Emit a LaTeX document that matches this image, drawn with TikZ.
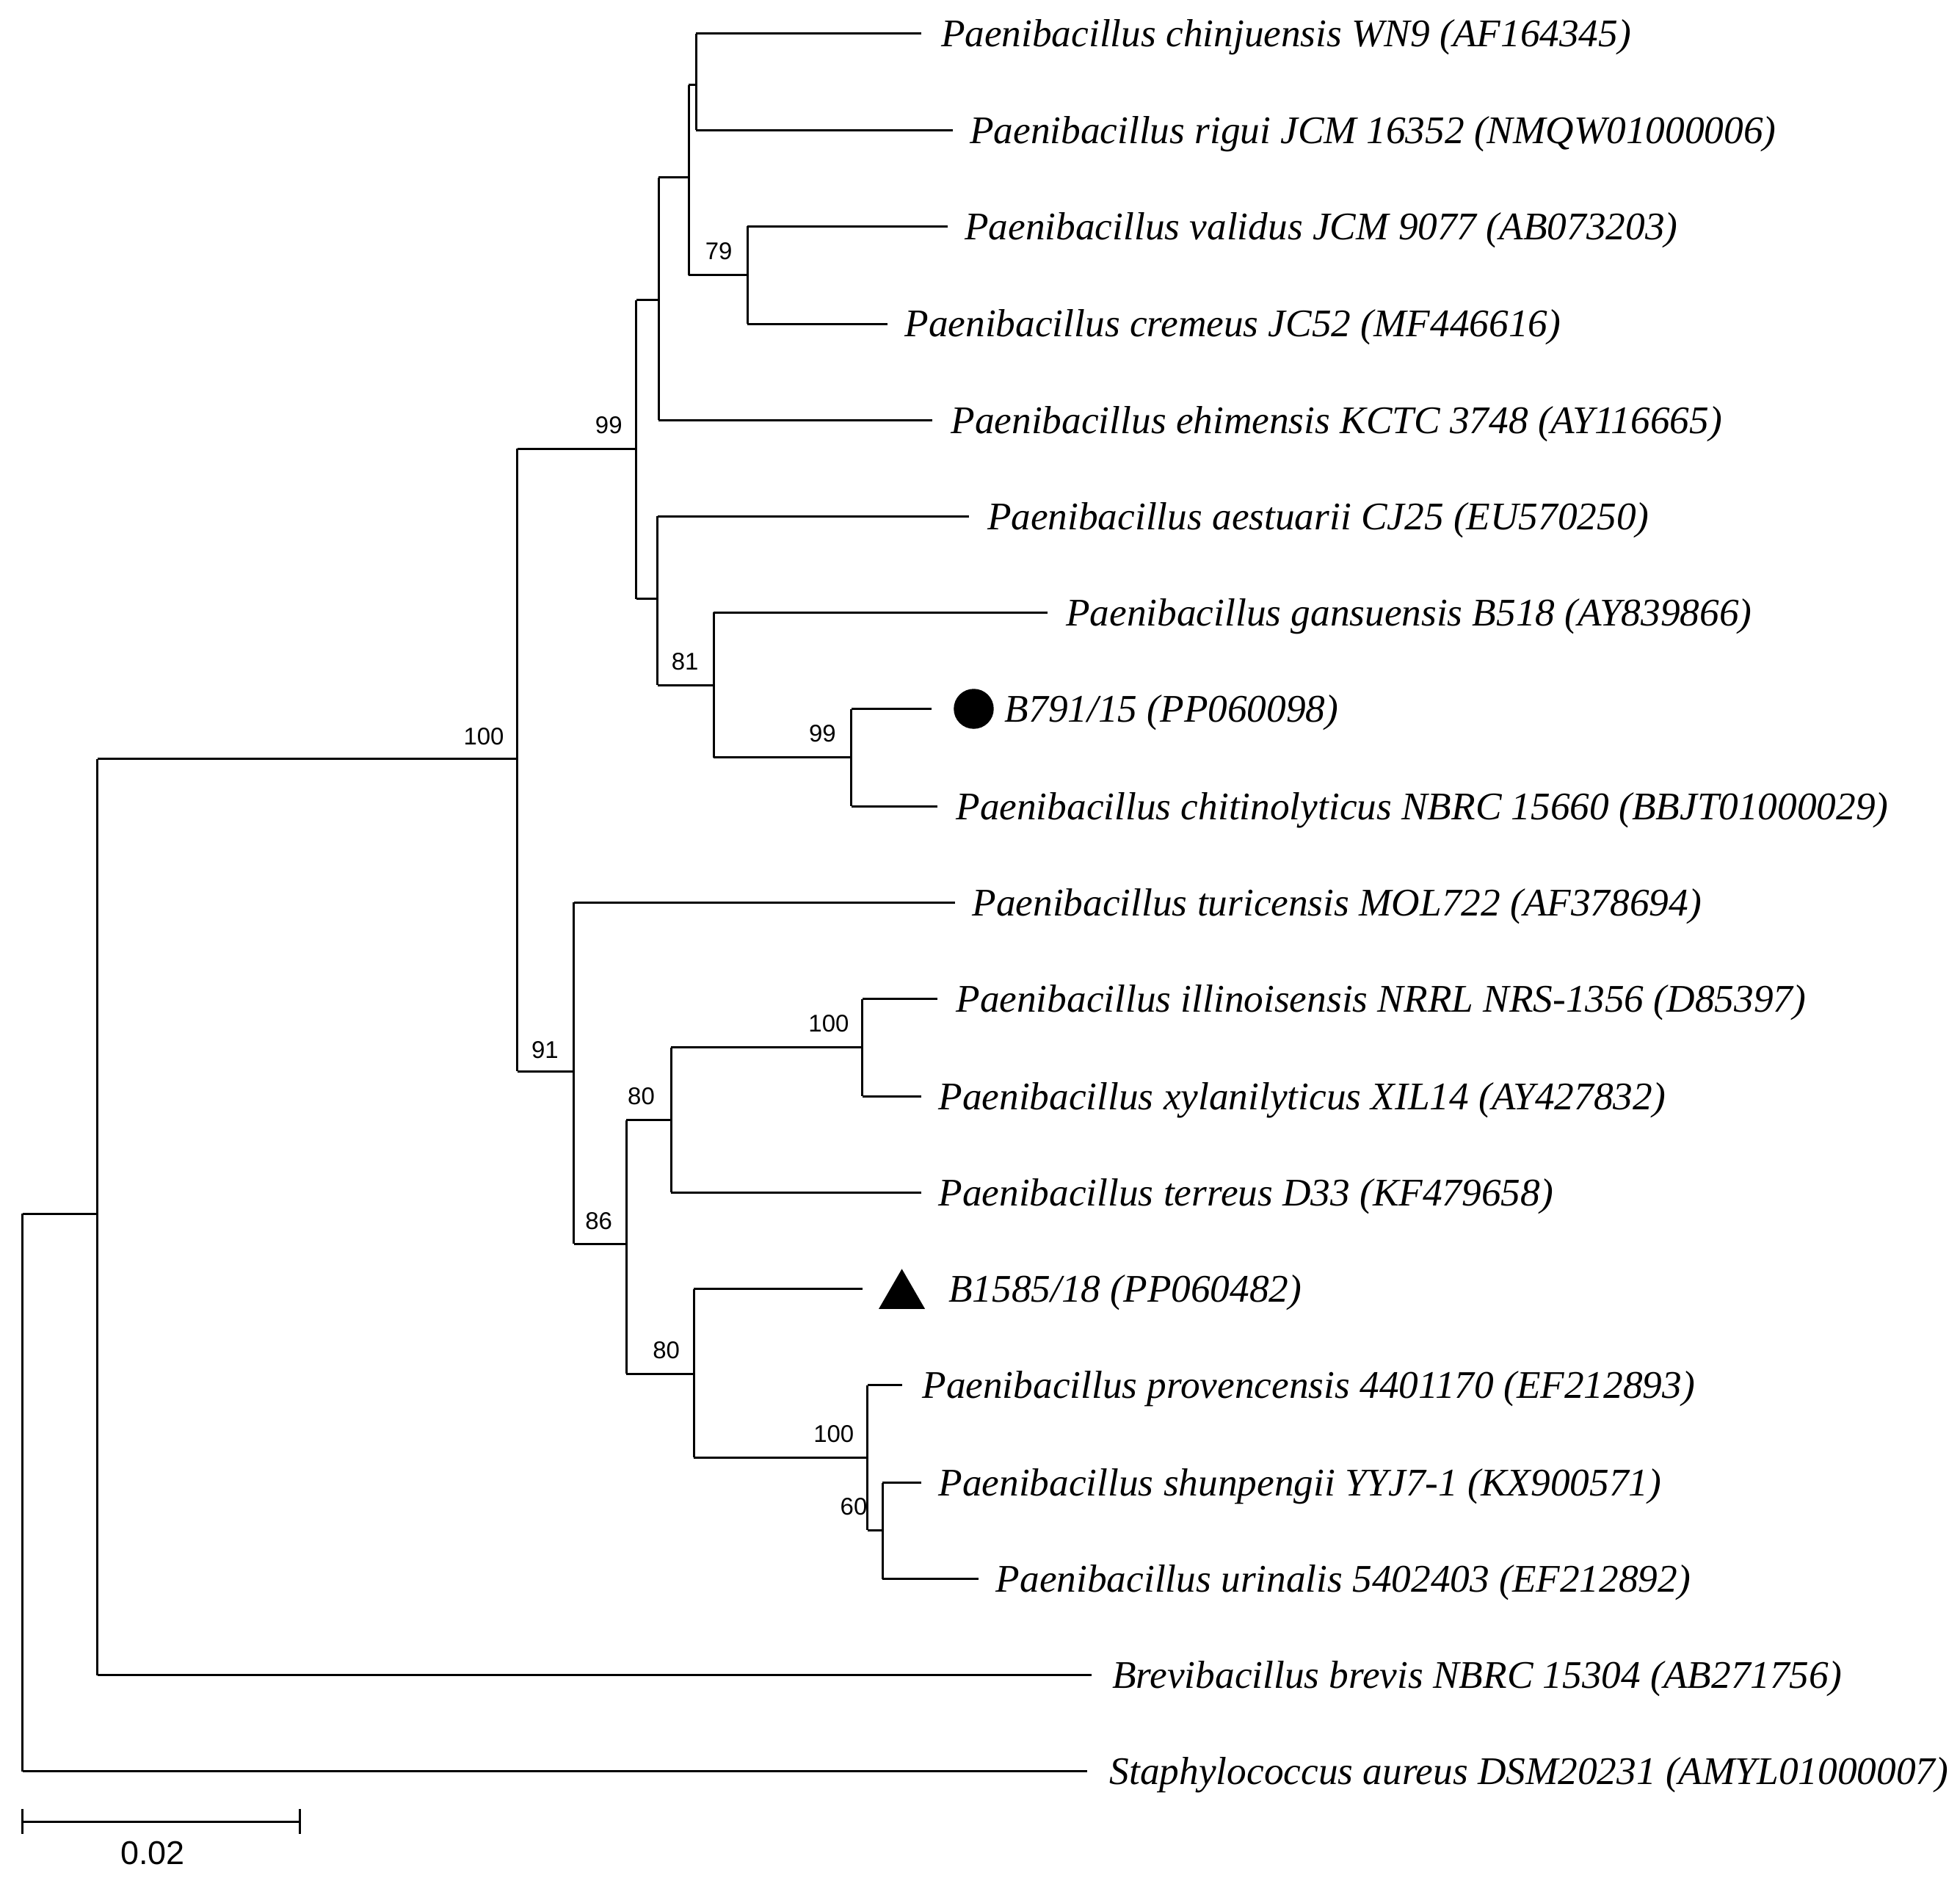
\documentclass[tikz,border=0pt]{standalone}
\usepackage{fontspec}
\setmainfont{Liberation Serif}
\newfontfamily\bsfont{Liberation Sans}
\begin{document}
\begin{tikzpicture}[x=0.01cm,y=-0.01cm,line width=0.5pt,
 leaf/.style={anchor=west,inner sep=0,yshift=-0.03cm,font=\fontsize{8.9}{11}\selectfont\itshape},
 bs/.style={inner sep=0,font=\bsfont\fontsize{5.5}{7}\selectfont}]
\useasboundingbox (0,0) rectangle (1568,1502);
% vertical lines
\foreach \x/\a/\b in {18/971/1417,78/607/1340,414/359/857,509/240/479,527/142/336,551/68/220,557/27/104,598/181/259,526/413/548,571/490/606,681/567/645,459/722/995,501/896/1099,537/838/954,690/799/877,555/1031/1166,694/1108/1224,706/1186/1263}
 \draw (\x,\a) -- (\x,\b);
% horizontal lines
\foreach \a/\b/\y in {18/870/1417,78/873/1340,18/78/971,78/414/607,414/509/359,509/527/240,527/551/142,551/557/68,557/737/27,557/762/104,551/598/220,598/758/181,598/710/259,527/746/336,509/526/479,526/775/413,526/571/548,571/838/490,571/681/606,681/745/567,681/750/645,414/459/857,459/764/722,459/501/995,501/537/896,537/690/838,690/750/799,690/737/877,537/737/954,501/555/1099,555/690/1031,555/694/1166,694/722/1108,694/706/1224,706/737/1186,706/783/1263}
 \draw (\a,\y) -- (\b,\y);
% leaves
\node[leaf] (l1) at (752,27) {Paenibacillus chinjuensis WN9 (AF164345)};
\node[leaf] (l2) at (775,104) {Paenibacillus rigui JCM 16352 (NMQW01000006)};
\node[leaf] (l3) at (771,181) {Paenibacillus validus JCM 9077 (AB073203)};
\node[leaf] (l4) at (723,259) {Paenibacillus cremeus JC52 (MF446616)};
\node[leaf] (l5) at (760,336) {Paenibacillus ehimensis KCTC 3748 (AY116665)};
\node[leaf] (l6) at (789,413) {Paenibacillus aestuarii CJ25 (EU570250)};
\node[leaf] (l7) at (852,490) {Paenibacillus gansuensis B518 (AY839866)};
\node[leaf] (l8) at (803,567) {B791/15 (PP060098)};
\node[leaf] (l9) at (764,645) {Paenibacillus chitinolyticus NBRC 15660 (BBJT01000029)};
\node[leaf] (l10) at (777,722) {Paenibacillus turicensis MOL722 (AF378694)};
\node[leaf] (l11) at (764,799) {Paenibacillus illinoisensis NRRL NRS-1356 (D85397)};
\node[leaf] (l12) at (750,877) {Paenibacillus xylanilyticus XIL14 (AY427832)};
\node[leaf] (l13) at (750,954) {Paenibacillus terreus D33 (KF479658)};
\node[leaf] (l14) at (758,1031) {B1585/18 (PP060482)};
\node[leaf] (l15) at (737,1108) {Paenibacillus provencensis 4401170 (EF212893)};
\node[leaf] (l16) at (750,1186) {Paenibacillus shunpengii YYJ7-1 (KX900571)};
\node[leaf] (l17) at (796,1263) {Paenibacillus urinalis 5402403 (EF212892)};
\node[leaf] (l18) at (889,1340) {Brevibacillus brevis NBRC 15304 (AB271756)};
\node[leaf] (l19) at (887,1417) {Staphylococcus aureus DSM20231 (AMYL01000007)};
% markers
\fill (779,567) circle (16);
\fill (703,1047) -- (740,1047) -- (721.5,1015) -- cycle;
% bootstrap
\foreach \x/\y/\t in {387/589/100,487/340/99,575/201/79,548/529/81,658/587/99,436/840/91,479/977/86,513/877/80,663/819/100,533/1080/80,667/1147/100,683/1205/60}
 \node[bs] at (\x,\y) {\t};
% scale bar
\draw (18,1457) -- (240,1457);
\draw (18,1447) -- (18,1467);
\draw (240,1447) -- (240,1467);
\node[bs,font=\bsfont\fontsize{7.5}{9}\selectfont] (sc) at (122,1482) {0.02};
\end{tikzpicture}
\end{document}
